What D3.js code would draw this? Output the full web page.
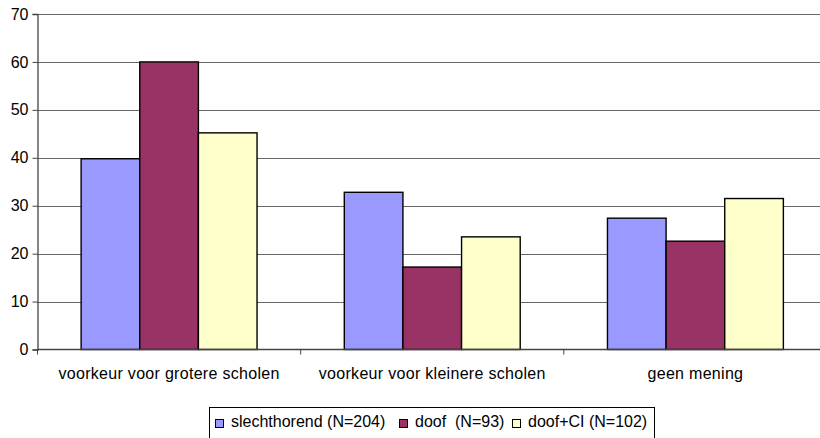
<!DOCTYPE html>
<html><head><meta charset="utf-8">
<script src="https://cdn.jsdelivr.net/npm/d3@7"></script>
<style>body{margin:0;background:#fff;}svg{display:block;font-family:"Liberation Sans",Arial,sans-serif;}</style>
</head><body><svg id="c" width="820" height="438"></svg>
<script>
const categories = ["voorkeur voor grotere scholen", "voorkeur voor kleinere scholen", "geen mening"];
const seriesNames = ["slechthorend (N=204)", "doof  (N=93)", "doof+CI (N=102)"];
const seriesColors = ["#9999FF", "#993366", "#FFFFCC"];
const slechthorend = [39.8, 32.8, 27.4];
const doof = [60.0, 17.2, 22.6];
const doofCI = [45.2, 23.5, 31.5];
const yTicks = [0, 10, 20, 30, 40, 50, 60, 70];

const seriesValues = [slechthorend, doof, doofCI];
const svg = d3.select("#c");
const pLeft = 37.5, pRight = 827, pTop = 14, pBottom = 349.5;

const y = d3.scaleLinear().domain([0, 70]).range([pBottom, pTop]);
const x0 = d3.scaleBand().domain(categories).range([pLeft, pRight]).paddingInner(0).paddingOuter(0);
const x1 = d3.scaleBand().domain(d3.range(seriesNames.length)).range([0, x0.bandwidth()]).paddingInner(0).paddingOuter(0.744);

// gridlines
svg.append("g").selectAll("line").data(yTicks.slice(1)).join("line")
  .attr("x1", pLeft).attr("x2", 820)
  .attr("y1", d => Math.round(y(d)) + 0.5).attr("y2", d => Math.round(y(d)) + 0.5)
  .attr("stroke", "#666").attr("stroke-width", 1);

// bars
const g = svg.append("g");
categories.forEach((c, ci) => {
  seriesValues.forEach((vals, si) => {
    g.append("rect")
      .attr("x", x0(c) + x1(si))
      .attr("y", y(vals[ci]))
      .attr("width", x1.bandwidth())
      .attr("height", y(0) - y(vals[ci]))
      .attr("fill", seriesColors[si])
      .attr("stroke", "#000").attr("stroke-width", 1.4);
  });
});

// y axis
const yAxis = d3.axisLeft(y).tickValues(yTicks).tickSize(5).tickPadding(4);
const ya = svg.append("g").attr("transform", `translate(${pLeft},0)`).call(yAxis);
ya.select(".domain").attr("stroke", "#444").attr("stroke-width", 1.3);
ya.selectAll(".tick line").attr("stroke", "#444");
ya.selectAll("text").attr("font-size", 16).attr("fill", "#000").attr("font-family", "Liberation Sans, Arial, sans-serif");

// x axis
const xa = svg.append("g").attr("transform", `translate(0,${pBottom})`);
xa.append("line").attr("x1", pLeft).attr("x2", 820).attr("y1", 0).attr("y2", 0).attr("stroke", "#444").attr("stroke-width", 1.3);
const bounds = categories.map(c => x0(c)).concat([pRight]);
xa.selectAll("line.t").data(bounds).join("line").attr("class", "t")
  .attr("x1", d => d).attr("x2", d => d).attr("y1", 0).attr("y2", 5).attr("stroke", "#444");
xa.selectAll("text").data(categories).join("text")
  .attr("x", d => x0(d) + x0.bandwidth() / 2).attr("y", 29.5)
  .attr("text-anchor", "middle").attr("font-size", 16).attr("fill", "#000")
  .style("letter-spacing", "0.3px")
  .text(d => d);

// legend
const lg = svg.append("g");
lg.append("rect").attr("x", 209.5).attr("y", 407.5).attr("width", 445).attr("height", 40)
  .attr("fill", "#fff").attr("stroke", "#000").attr("stroke-width", 1);
const legX = [215, 399, 512];
seriesNames.forEach((n, i) => {
  lg.append("rect").attr("x", legX[i] + 0.5).attr("y", 419.5).attr("width", 8).attr("height", 8)
    .attr("fill", seriesColors[i]).attr("stroke", "#000").attr("stroke-width", 1);
  lg.append("text").attr("x", legX[i] + 16).attr("y", 427).attr("font-size", 16)
    .attr("fill", "#000").attr("xml:space", "preserve").style("white-space", "pre").text(n);
});
</script></body></html>
